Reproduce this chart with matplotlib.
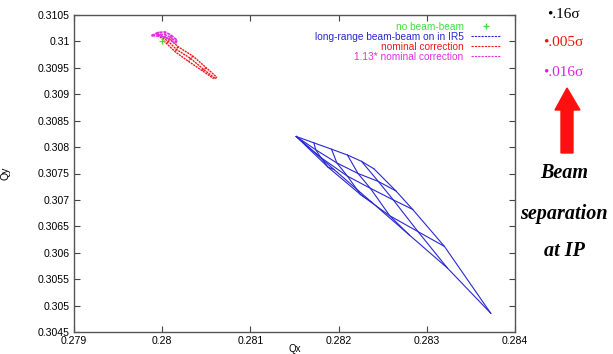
import numpy as np
import matplotlib.pyplot as plt
from matplotlib.lines import Line2D
from matplotlib.patches import Polygon

plt.rcParams['font.family'] = ['Liberation Sans', 'DejaVu Sans']

# tune without beam-beam
nobb_qx = [0.28000]
nobb_qy = [0.31000]

# long-range beam-beam in IR5, footprint (rows = amplitude, columns = angle)
lr_origin = (0.28152, 0.30820)
lr_qx = [
    [0.28172, 0.28174, 0.28180, 0.28188, 0.281948],
    [0.28192, 0.28198, 0.28210, 0.28225, 0.282377],
    [0.28210, 0.28222, 0.28236, 0.28258, 0.282805],
    [0.28226, 0.28245, 0.28262, 0.28290, 0.283234],
    [0.28240, 0.28265, 0.28284, 0.28320, 0.283725],
]
lr_qy = [
    [0.30808, 0.30795, 0.30780, 0.30762, 0.307575],
    [0.30796, 0.30770, 0.30745, 0.30710, 0.306954],
    [0.30785, 0.30750, 0.30722, 0.30670, 0.306332],
    [0.30773, 0.30735, 0.30700, 0.30640, 0.305710],
    [0.30759, 0.30717, 0.30682, 0.30612, 0.304855],
]

# nominal correction
nom_origin = (0.27995, 0.31013)
nom_qx = [
    [0.28008, 0.28007, 0.28005],
    [0.28018, 0.28016, 0.28015],
    [0.28035, 0.28032, 0.28030],
    [0.28050, 0.28047, 0.28045],
    [0.28062, 0.28060, 0.28058],
]
nom_qy = [
    [0.31005, 0.31000, 0.30996],
    [0.30990, 0.30985, 0.30980],
    [0.30972, 0.30968, 0.30962],
    [0.30950, 0.30947, 0.30945],
    [0.30932, 0.30930, 0.30930],
]

# 1.13 * nominal correction
big_origin = (0.27988, 0.31011)
big_qx = [
    [0.27995, 0.27995, 0.27995],
    [0.28003, 0.28003, 0.28003],
    [0.28010, 0.28010, 0.28010],
    [0.28017, 0.28016, 0.28015],
]
big_qy = [
    [0.31017, 0.31014, 0.31010],
    [0.31018, 0.31013, 0.31008],
    [0.31012, 0.31007, 0.31002],
    [0.31002, 0.30999, 0.30996],
]

x_ticks = [0.279, 0.28, 0.281, 0.282, 0.283, 0.284]
x_labels = ['0.279', '0.28', '0.281', '0.282', '0.283', '0.284']
y_ticks = [0.3045, 0.305, 0.3055, 0.306, 0.3065, 0.307, 0.3075,
           0.308, 0.3085, 0.309, 0.3095, 0.31, 0.3105]
y_labels = ['0.3045', '0.305', '0.3055', '0.306', '0.3065', '0.307', '0.3075',
            '0.308', '0.3085', '0.309', '0.3095', '0.31', '0.3105']

sep_labels = ['\u2022.16\u03c3', '\u2022.005\u03c3', '\u2022.016\u03c3']
sep_colors = ['black', '#ee1111', '#dd22dd']

BLUE = '#2828d0'
RED = '#ee1a1a'
MAG = '#dd33dd'
GREEN = '#44dd44'


def draw_mesh(ax, origin, qx, qy, color, lw, ls='-'):
    qx = np.array(qx)
    qy = np.array(qy)
    for j in range(qx.shape[1]):
        ax.plot([origin[0]] + list(qx[:, j]), [origin[1]] + list(qy[:, j]),
                color=color, lw=lw, ls=ls)
    for i in range(qx.shape[0]):
        ax.plot(qx[i], qy[i], color=color, lw=lw, ls=ls)


fig = plt.figure(figsize=(6.13, 3.54), dpi=100)
ax = fig.add_axes([74 / 613, 1 - 332 / 354, (515 - 74) / 613, (332 - 15) / 354])

draw_mesh(ax, lr_origin, lr_qx, lr_qy, BLUE, 0.8)
draw_mesh(ax, nom_origin, nom_qx, nom_qy, RED, 1.0, (0, (1.5, 0.6)))
draw_mesh(ax, big_origin, big_qx, big_qy, MAG, 1.2, (0, (2, 0.5)))
ax.plot(nobb_qx, nobb_qy, '+', color=GREEN, ms=5, mew=0.9)

ax.set_xlim(0.279, 0.284)
ax.set_ylim(0.3045, 0.3105)
ax.set_xticks(x_ticks)
ax.set_xticklabels(x_labels)
ax.set_yticks(y_ticks)
ax.set_yticklabels(y_labels)
ax.tick_params(direction='in', top=True, right=True, length=4, width=0.8,
               labelsize=7.6, color='#444444', pad=3)
for s in ax.spines.values():
    s.set_color('#555555')
    s.set_linewidth(1.0)
ax.set_xlabel('Qx', fontsize=7, labelpad=-1.5)
ax.set_ylabel('Qy', fontsize=7.6, labelpad=20)

handles = [
    Line2D([], [], color=GREEN, marker='+', ls='none', ms=5),
    Line2D([], [], color=BLUE, ls=(0, (2, 1)), lw=0.8),
    Line2D([], [], color=RED, ls=(0, (2, 1)), lw=0.8),
    Line2D([], [], color=MAG, ls=(0, (2, 1)), lw=0.8),
]
labels = ['no beam-beam', 'long-range beam-beam on in IR5',
          'nominal correction', '1.13* nominal correction']
leg = ax.legend(handles, labels, loc='upper right', bbox_to_anchor=(0.978, 0.995),
                frameon=False, markerfirst=False, fontsize=7.3, handlelength=2.9,
                handletextpad=0.7, labelspacing=0.0, borderpad=0)
for t, c in zip(leg.get_texts(), [GREEN, BLUE, RED, MAG]):
    t.set_color(c)

# annotations to the right of the plot
sep_y = [15, 43, 73]
for lab, col, y in zip(sep_labels, sep_colors, sep_y):
    fig.text(563 / 613, 1 - y / 354, lab, color=col, fontsize=11,
             family='Liberation Serif', ha='center', va='center')

arrow_px = [(561, 153), (573, 153), (573, 110), (580, 110),
            (567, 88), (555, 110), (561, 110)]
arrow = Polygon([(x / 100, (354 - y) / 100) for x, y in arrow_px],
                closed=True, transform=fig.dpi_scale_trans, color='#ff1010')
fig.patches.append(arrow)

for txt, y in zip(['Beam', 'separation', 'at IP'], [173, 214, 251]):
    fig.text(564 / 613, 1 - y / 354, txt, fontsize=14.5, family='Liberation Serif',
             style='italic', weight='bold', ha='center', va='center')

fig.savefig('out.png', dpi=100)
